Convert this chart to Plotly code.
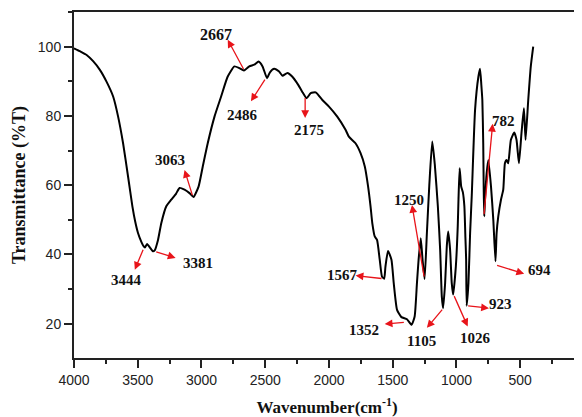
import plotly.graph_objects as go

wavenumber = [4000, 3950, 3901, 3850, 3797, 3745, 3693, 3654, 3615, 3576, 3542, 3520, 3498, 3470,
              3453, 3444, 3427, 3401, 3381, 3367, 3341, 3315, 3276, 3237, 3200, 3172, 3133, 3094,
              3063, 3023, 2990, 2951, 2898, 2846, 2795, 2742, 2703, 2667, 2625, 2586, 2552, 2521,
              2486, 2463, 2430, 2391, 2365, 2326, 2287, 2240, 2210, 2175, 2143, 2104, 2052, 2000,
              1935, 1870, 1844, 1792, 1753, 1719, 1693, 1674, 1660, 1641, 1623, 1602, 1584, 1567,
              1557, 1537, 1510, 1492, 1466, 1432, 1388, 1352, 1328, 1310, 1297, 1280, 1266, 1250,
              1232, 1213, 1190, 1170, 1146, 1128, 1115, 1105, 1089, 1076, 1065, 1050, 1037, 1026,
              1005, 990, 984, 975, 963, 950, 938, 930, 924, 920, 906, 893, 880, 854, 828, 815,
              805, 797, 790, 786, 782, 776, 763, 750, 729, 711, 694, 685, 672, 651, 633, 620,
              607, 594, 573, 547, 529, 510, 490, 471, 458, 437, 417, 398]
transmittance = [99.5, 98.6, 97.6, 95.8, 93.3, 89.9, 85.6, 79.8, 72.1, 62.5, 53.9, 49.5, 46.2, 43.5,
                 42.3, 42.0, 43.0, 41.8, 40.9, 41.2, 44.2, 49.1, 53.9, 55.8, 57.5, 59.2, 58.7, 57.7,
                 56.6, 59.6, 65.4, 72.1, 79.8, 85.6, 91.3, 94.3, 93.8, 93.1, 94.3, 94.8, 95.7, 94.3,
                 90.9, 92.6, 93.6, 92.8, 91.6, 92.4, 91.3, 88.9, 87.0, 85.1, 86.6, 86.8, 84.6, 82.7,
                 79.8, 76.0, 74.0, 72.1, 69.3, 65.4, 59.6, 53.9, 49.0, 45.2, 44.2, 38.5, 33.6, 33.0,
                 36.5, 41.0, 38.5, 31.7, 24.0, 21.9, 21.3, 19.7, 22.1, 31.7, 38.5, 44.7, 38.5, 32.9,
                 46.2, 60.0, 72.6, 66.0, 53.9, 41.4, 27.9, 24.5, 31.7, 42.3, 46.6, 41.4, 31.7, 28.4,
                 36.5, 48.1, 56.0, 64.9, 59.6, 58.0, 53.9, 45.0, 38.5, 25.2, 31.7, 46.2, 57.0, 81.8, 91.3, 93.6,
                 89.0, 84.6, 72.0, 58.0, 51.0, 56.0, 63.5, 67.3, 59.6, 50.0, 38.0, 46.2, 51.0, 55.8, 58.7, 66.3,
                 67.3, 66.3, 73.1, 75.2, 73.1, 66.3, 75.0, 82.2, 73.1, 84.6, 94.3, 100.0]

peak_labels = ["3444", "3381", "3063", "2667", "2486", "2175", "1567", "1352",
               "1250", "1105", "1026", "923", "782", "694"]
# (label x, label y, arrow tail x, tail y, arrow head x, head y) in data units
label_pos = [
    (3588, 32.7, 3453, 41.8, 3523, 35.6),
    (3029, 37.5, 3367, 40.9, 3203, 39.0),
    (3250, 67.3, 3068, 56.7, 3133, 64.4),
    (2885, 103.4, 2664, 93.1, 2794, 102.0),
    (2677, 80.3, 2495, 90.9, 2612, 84.2),
    (2156, 76.0, 2187, 85.6, 2187, 79.4),
    (1896, 34.1, 1576, 33.0, 1791, 33.9),
    (1727, 18.3, 1401, 20.4, 1563, 19.9),
    (1375, 55.8, 1252, 33.2, 1349, 54.3),
    (1271, 14.9, 1102, 24.5, 1232, 18.8),
    (849, 15.9, 1023, 28.4, 912, 19.2),
    (651, 25.7, 920, 25.2, 745, 24.5),
    (633, 78.4, 785, 51.2, 716, 77.7),
    (352, 35.6, 693, 37.0, 469, 34.4),
]

fig = go.Figure()
fig.add_trace(go.Scatter(x=wavenumber, y=transmittance, mode="lines",
                         line=dict(color="black", width=2, shape="spline", smoothing=0.5),
                         showlegend=False, hoverinfo="skip"))

serif = "Liberation Serif, Times New Roman, serif"
ann = []
for lab, (lx, ly, tx, ty, hx, hy) in zip(peak_labels, label_pos):
    ann.append(dict(x=hx, y=hy, ax=tx, ay=ty, xref="x", yref="y", axref="x", ayref="y",
                    text="", showarrow=True, arrowhead=2, arrowsize=1.2, arrowwidth=1.3,
                    arrowcolor="#e8141a", standoff=0, startstandoff=0))
    ann.append(dict(x=lx, y=ly, xref="x", yref="y", text="<b>%s</b>" % lab, showarrow=False,
                    font=dict(family=serif, size=16 if lab == "2667" else 15, color="#111")))

# the page body adds an 8 px margin, so the figure is 8 px smaller and margins shifted
fig.update_layout(
    width=574, height=409,
    margin=dict(l=66, r=0, t=4, b=59),
    paper_bgcolor="white", plot_bgcolor="white",
    annotations=ann,
    font=dict(family="Liberation Sans, Arial, sans-serif", size=14, color="#222"),
    xaxis=dict(range=[4000, 31], tickmode="array", tickvals=[4000, 3500, 3000, 2500, 2000, 1500, 1000, 500],
               ticks="outside", ticklen=8, tickwidth=1.5, tickcolor="#222",
               minor=dict(ticks="outside", ticklen=4, tickwidth=1.5, tickcolor="#222", dtick=250, tick0=0),
               showline=True, linewidth=2, linecolor="#222", mirror=True, showgrid=False, zeroline=False,
               title=dict(text="<b>Wavenumber(cm<sup>-1</sup>)</b>", standoff=14,
                          font=dict(family=serif, size=17, color="#111"))),
    yaxis=dict(range=[10.1, 110], tickvals=[20, 40, 60, 80, 100],
               ticks="outside", ticklen=8, tickwidth=1.5, tickcolor="#222",
               minor=dict(ticks="outside", ticklen=4, tickwidth=1.5, tickcolor="#222", dtick=10, tick0=0),
               showline=True, linewidth=2, linecolor="#222", mirror=True, showgrid=False, zeroline=False,
               title=dict(text="<b>Transmittance (%T)</b>", standoff=8,
                          font=dict(family=serif, size=18, color="#111"))),
)

fig.write_html("out.html")
